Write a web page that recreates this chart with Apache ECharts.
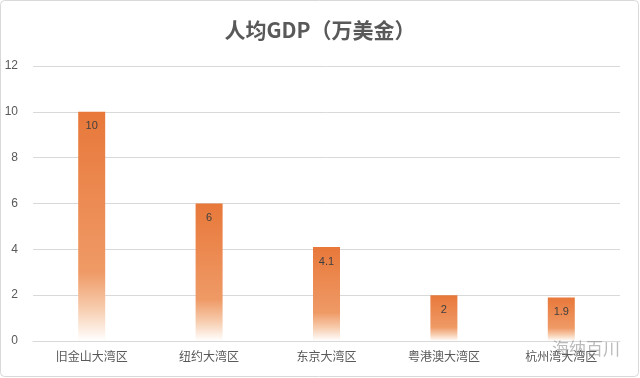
<!DOCTYPE html>
<html>
<head>
<meta charset="utf-8">
<script src="https://cdn.jsdelivr.net/npm/echarts@6/dist/echarts.min.js"></script>
<style>
  html, body { margin: 0; padding: 0; background: #fff; }
  #chart1 { width: 640px; height: 378px; }
</style>
</head>
<body>
<div id="chart1"></div>
<script>
var categories = ['旧金山大湾区', '纽约大湾区', '东京大湾区', '粤港澳大湾区', '杭州湾大湾区'];
var gdpValues = [10, 6, 4.1, 2, 1.9];
var yTicks = [0, 2, 4, 6, 8, 10, 12];

var chartDom = document.getElementById('chart1');
var myChart = echarts.init(chartDom);
var option;

var barColor = new echarts.graphic.LinearGradient(0, 0, 0, 1, [
  { offset: 0, color: '#E8783A' },
  { offset: 0.7, color: '#EF9A66' },
  { offset: 0.86, color: '#F7CDAF' },
  { offset: 1, color: '#FFFFFF' }
]);

option = {
  backgroundColor: '#fff',
  title: {
    text: '人均GDP（万美金）',
    left: 'center',
    top: 15,
    textStyle: {
      fontFamily: 'Noto Sans CJK SC',
      fontSize: 21,
      fontWeight: 'bold',
      color: '#595959'
    }
  },
  graphic: [
    {
      type: 'rect',
      shape: { x: 0.5, y: 0.5, width: 638, height: 376, r: 4 },
      style: { fill: 'none', stroke: '#d9d9d9', lineWidth: 1 },
      silent: true
    },
    {
      type: 'text',
      left: 552,
      top: 340,
      style: {
        text: '海纳百川',
        fontSize: 17,
        fontFamily: 'Noto Sans CJK SC',
        fill: 'rgba(120,120,120,0.5)'
      },
      z: 10
    }
  ],
  grid: {
    left: 33,
    right: 20,
    top: 66,
    bottom: 37,
    containLabel: false
  },
  xAxis: {
    type: 'category',
    data: categories,
    axisLine: { show: true, lineStyle: { color: '#d9d9d9' } },
    axisTick: { show: false },
    axisLabel: {
      color: '#595959',
      fontSize: 12,
      fontFamily: 'Noto Sans CJK SC',
      margin: 9
    }
  },
  yAxis: {
    type: 'value',
    min: yTicks[0],
    max: yTicks[yTicks.length - 1],
    interval: 2,
    axisLine: { show: false },
    axisTick: { show: false },
    axisLabel: { color: '#595959', fontSize: 12, margin: 15 },
    splitLine: { lineStyle: { color: '#d9d9d9' } }
  },
  series: [
    {
      type: 'bar',
      data: gdpValues,
      barWidth: 27,
      itemStyle: { color: barColor },
      label: {
        show: true,
        position: 'insideTop',
        distance: 9,
        fontSize: 11,
        color: '#404040'
      }
    }
  ]
};

option && myChart.setOption(option);
window.onresize = function() {
  myChart.resize();
};
</script>
</body>
</html>
